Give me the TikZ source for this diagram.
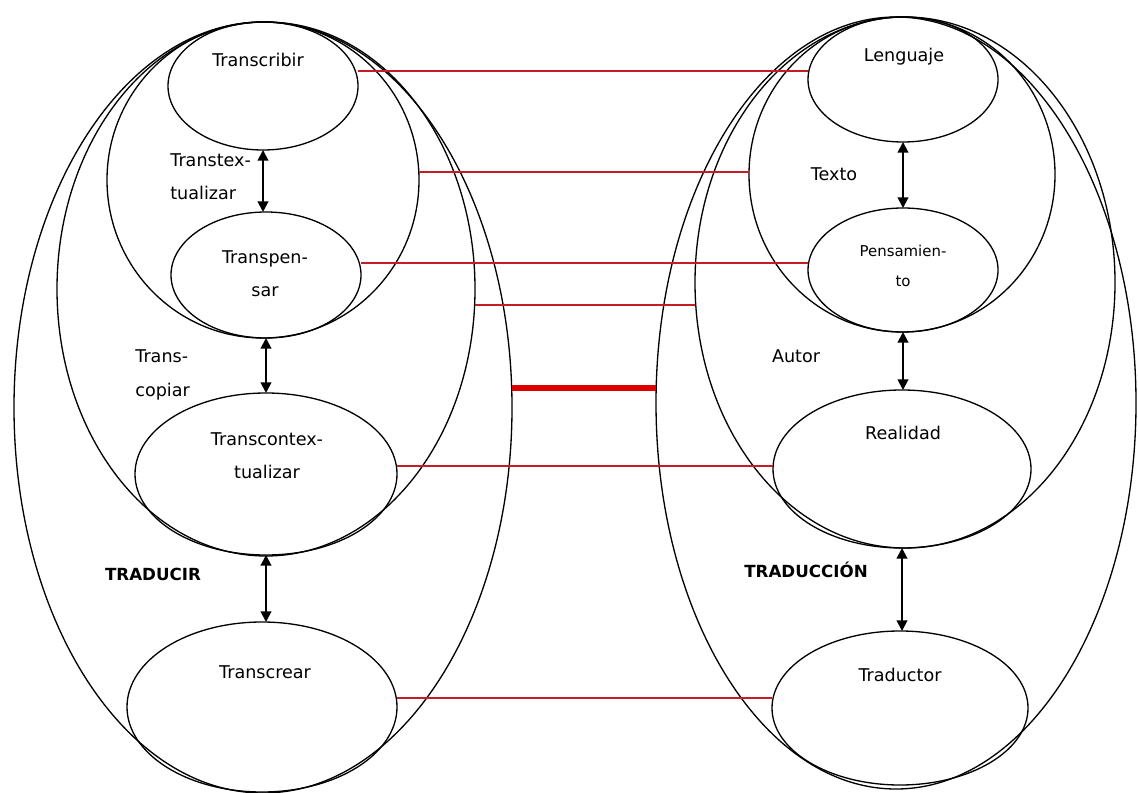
\documentclass[tikz,border=0pt]{standalone}
\usepackage{fontspec}
\setmainfont{DejaVu Sans}
\usetikzlibrary{arrows.meta,shapes.geometric}
\definecolor{linkred}{RGB}{196,30,36}
\definecolor{barred}{RGB}{222,0,0}

\tikzset{
  oval/.style 2 args={draw, ellipse, inner sep=0pt, outer sep=0pt, line width=0.75pt,
    minimum width=#1*0.02cm, minimum height=#2*0.02cm},
  lbl/.style={font=\fontsize{10}{19}\selectfont, inner sep=0pt},
  smalllbl/.style={font=\fontsize{8.5}{17}\selectfont, inner sep=0pt},
  boldlbl/.style={font=\fontsize{9.5}{12}\selectfont\bfseries, inner sep=0pt},
  link/.style={linkred, line width=1.1pt},
  bar/.style={barred, line width=3.4pt},
  bothway/.style={{Triangle[length=6pt,width=6pt]}-{Triangle[length=6pt,width=6pt]}, line width=1.1pt},
}

\begin{document}
\begin{tikzpicture}[x=0.02cm, y=-0.02cm]
  \useasboundingbox (0,0) rectangle (1138,793);

  % left family: traducir
  \node[oval={498}{771}] (traducir) at (263,407.5) {};
  \node[oval={418}{534}] (transcopiar) at (266,289) {};
  \node[oval={312}{316}] (transtext) at (263,180) {};
  \node[oval={190}{128}] (transcribir) at (263,86) {};
  \node[oval={190}{126}] (transpensar) at (266,275) {};
  \node[oval={262}{162}] (transcontext) at (266,474) {};
  \node[oval={270}{170}] (transcrear) at (262,707) {};

  % right family: traduccion
  \node[oval={480}{772}] (traduccion) at (896,403) {};
  \node[oval={420}{531}] (autor) at (905,282.5) {};
  \node[oval={306}{315}] (texto) at (902,174.5) {};
  \node[oval={190}{125}] (lenguaje) at (903,79.5) {};
  \node[oval={190}{124}] (pensamiento) at (903,270) {};
  \node[oval={258}{158}] (realidad) at (902,469) {};
  \node[oval={256}{154}] (traductor) at (900,708) {};

  % labels
  \node[lbl] (transcribir-t) at (258,60) {Transcribir};
  \node[lbl, align=left, anchor=west] (transtext-t) at (170,177) {Transtex-\\tualizar};
  \node[lbl, align=center] (transpensar-t) at (265,274) {Transpen-\\sar};
  \node[lbl, align=left, anchor=west] (transcopiar-t) at (135,375) {Trans-\\copiar};
  \node[lbl, align=center] (transcontext-t) at (267,456) {Transcontex-\\tualizar};
  \node[boldlbl] (traducir-t) at (153,574) {TRADUCIR};
  \node[lbl] (transcrear-t) at (265,672) {Transcrear};

  \node[lbl] (lenguaje-t) at (904,57) {Lenguaje};
  \node[lbl] (texto-t) at (834,174) {Texto};
  \node[smalllbl, align=center] (pensamiento-t) at (903,266) {Pensamien-\\to};
  \node[lbl] (autor-t) at (796,356) {Autor};
  \node[lbl] (realidad-t) at (903,433) {Realidad};
  \node[boldlbl] (traduccion-t) at (806,570) {TRADUCCIÓN};
  \node[lbl] (traductor-t) at (900,675) {Traductor};

  % double arrows
  \draw[bothway] (transcribir.south) -- (transcribir.south |- transpensar.north);
  \draw[bothway] (transpensar.south) -- (transpensar.south |- transcontext.north);
  \draw[bothway] (transcontext.south) -- (transcontext.south |- transcrear.north);
  \draw[bothway] (lenguaje.south) -- (lenguaje.south |- pensamiento.north);
  \draw[bothway] (pensamiento.south) -- (pensamiento.south |- realidad.north);
  \draw[bothway] (realidad.south) -- (realidad.south |- traductor.north);

  % correspondences
  \draw[link] (transcribir.east |- 0,71) -- (lenguaje.west |- 0,71);
  \draw[link] (transtext.east |- 0,172) -- (texto.west |- 0,172);
  \draw[link] (transpensar.east |- 0,263) -- (pensamiento.west |- 0,263);
  \draw[link] (transcopiar.east |- 0,305) -- (autor.west |- 0,305);
  \draw[bar] (traducir.east |- 0,388) -- (traduccion.west |- 0,388);
  \draw[link] (transcontext.east |- 0,466) -- (realidad.west |- 0,466);
  \draw[link] (transcrear.east |- 0,698) -- (traductor.west |- 0,698);
\end{tikzpicture}
\end{document}
